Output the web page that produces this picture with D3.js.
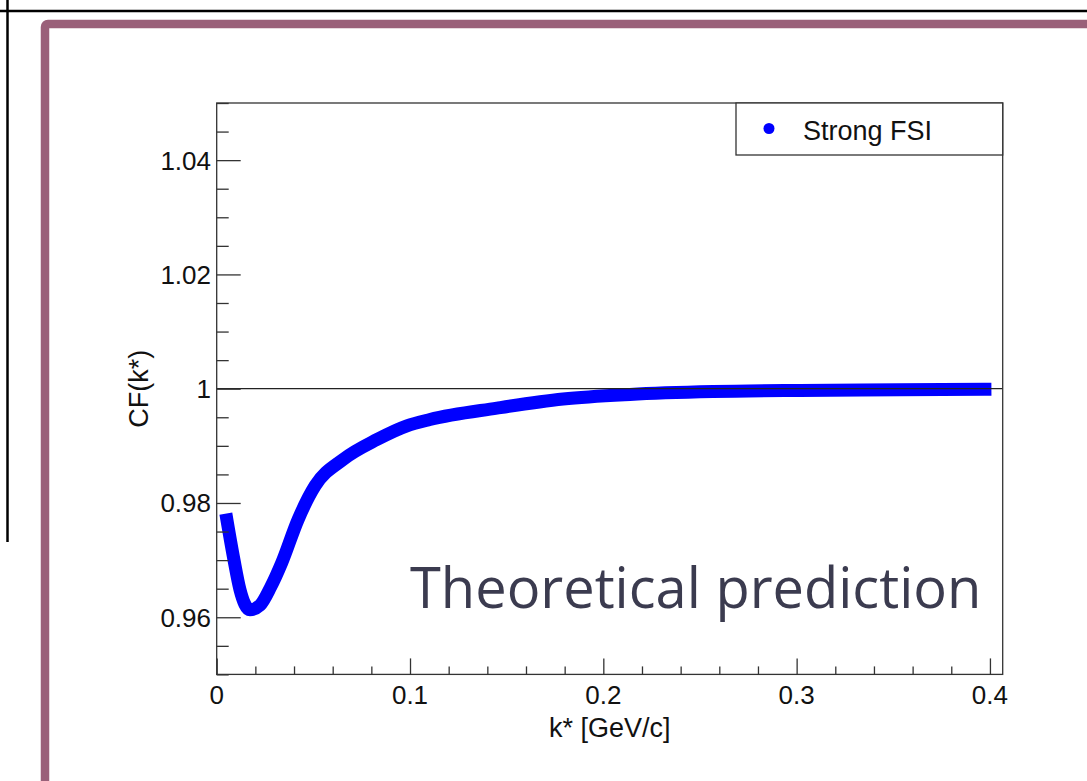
<!DOCTYPE html>
<html>
<head>
<meta charset="utf-8">
<script src="https://cdn.jsdelivr.net/npm/d3@7"></script>
<style>
  html, body { margin: 0; padding: 0; background: #ffffff; }
  svg { display: block; }
</style>
</head>
<body>
<svg id="chart" width="1087" height="781"></svg>
<script>
// ---- data ----
const kValues  = [0.0053, 0.0089, 0.0120, 0.0172, 0.0224, 0.0281, 0.0336, 0.0421, 0.0509, 0.0653, 0.0829, 0.0984, 0.1103, 0.1450, 0.1792, 0.2138, 0.2567, 0.3017, 0.3534, 0.3974];
const cfValues = [0.9770, 0.9701, 0.9649, 0.9613, 0.9621, 0.9654, 0.9695, 0.9771, 0.9830, 0.9876, 0.9911, 0.9935, 0.9946, 0.9966, 0.9982, 0.9990, 0.9995, 0.9997, 0.9998, 0.9999];
const xMajorTicks = [0, 0.1, 0.2, 0.3, 0.4];
const xTickLabels = ["0", "0.1", "0.2", "0.3", "0.4"];
const yMajorTicks = [0.96, 0.98, 1.00, 1.02, 1.04];
const yTickLabels = ["0.96", "0.98", "1", "1.02", "1.04"];
const xDomain = [0, 0.4066];
const yDomain = [0.95, 1.05];
const referenceLevel = 1.0;
const seriesName = "Strong FSI";
const xTitle = "k* [GeV/c]";
const yTitle = "CF(k*)";
const overlayText = "Theoretical prediction";

(function () {
// ---- layout ----
const svg = d3.select("#chart");
const W = 1087, H = 781;
const pL = 216.7, pR = 1002.7, pT = 103, pB = 674.4;
const fontAxis = "'Liberation Sans', Arial, Helvetica, sans-serif";

// slide decorations
svg.append("line").attr("x1", 0).attr("x2", W).attr("y1", 11).attr("y2", 11)
  .attr("stroke", "#000").attr("stroke-width", 2.5);
svg.append("line").attr("x1", 7.5).attr("x2", 7.5).attr("y1", 0).attr("y2", 542)
  .attr("stroke", "#000").attr("stroke-width", 2.5);
svg.append("rect").attr("x", 45).attr("y", 24).attr("width", 1200).attr("height", 900)
  .attr("rx", 3).attr("fill", "#ffffff").attr("stroke", "#9a6079").attr("stroke-width", 8.5);

const x = d3.scaleLinear().domain(xDomain).range([pL, pR]);
const y = d3.scaleLinear().domain(yDomain).range([pB, pT]);

// minor ticks
const xMinor = d3.range(0, 0.4001, 0.02).filter(v => !xMajorTicks.some(m => Math.abs(m - v) < 1e-9));
const yMinor = d3.range(0.95, 1.0501, 0.005).filter(v => !yMajorTicks.some(m => Math.abs(m - v) < 1e-9));

const g = svg.append("g");

// curve
const line = d3.line()
  .x((d, i) => x(kValues[i]))
  .y((d, i) => y(cfValues[i]))
  .curve(d3.curveMonotoneX);
g.append("path")
  .datum(kValues)
  .attr("d", line)
  .attr("fill", "none")
  .attr("stroke", "#0000ff")
  .attr("stroke-width", 13)
  .attr("stroke-linejoin", "round")
  .attr("stroke-linecap", "square");

// reference line at 1
g.append("line")
  .attr("x1", x(xDomain[0])).attr("x2", x(xDomain[1]))
  .attr("y1", y(referenceLevel)).attr("y2", y(referenceLevel))
  .attr("stroke", "#222").attr("stroke-width", 1.2);

// frame
g.append("rect").attr("x", pL).attr("y", pT).attr("width", pR - pL).attr("height", pB - pT)
  .attr("fill", "none").attr("stroke", "#333").attr("stroke-width", 1.3);

// ticks (pointing into the plot)
const xAxisMajor = d3.axisBottom(x).tickValues(xMajorTicks).tickSize(-16).tickFormat("");
const xAxisMinor = d3.axisBottom(x).tickValues(xMinor).tickSize(-8).tickFormat("");
[xAxisMajor, xAxisMinor].forEach(ax => {
  const a = g.append("g").attr("transform", `translate(0,${pB})`).call(ax);
  a.select(".domain").remove();
  a.selectAll("line").attr("stroke", "#333").attr("stroke-width", 1.3);
});
const yAxisMajor = d3.axisLeft(y).tickValues(yMajorTicks).tickSize(-24).tickFormat("");
const yAxisMinor = d3.axisLeft(y).tickValues(yMinor).tickSize(-12).tickFormat("");
[yAxisMajor, yAxisMinor].forEach(ax => {
  const a = g.append("g").attr("transform", `translate(${pL},0)`).call(ax);
  a.select(".domain").remove();
  a.selectAll("line").attr("stroke", "#333").attr("stroke-width", 1.3);
});

// tick labels
g.selectAll(".xlab").data(xMajorTicks).enter().append("text")
  .attr("x", d => x(d)).attr("y", 704)
  .attr("text-anchor", "middle")
  .attr("font-family", fontAxis).attr("font-size", 26).attr("fill", "#111")
  .text((d, i) => xTickLabels[i]);
g.selectAll(".ylab").data(yMajorTicks).enter().append("text")
  .attr("x", 211).attr("y", d => y(d) + 9.5)
  .attr("text-anchor", "end")
  .attr("font-family", fontAxis).attr("font-size", 26).attr("fill", "#111")
  .text((d, i) => yTickLabels[i]);

// axis titles
g.append("text").attr("x", (pL + pR) / 2).attr("y", 737)
  .attr("text-anchor", "middle")
  .attr("font-family", fontAxis).attr("font-size", 27).attr("fill", "#111")
  .text(xTitle);
g.append("text")
  .attr("transform", `translate(148,${(pT + pB) / 2}) rotate(-90)`)
  .attr("text-anchor", "middle")
  .attr("font-family", fontAxis).attr("font-size", 27).attr("fill", "#111")
  .text(yTitle);

// legend
g.append("rect").attr("x", 736).attr("y", pT).attr("width", pR - 736).attr("height", 52)
  .attr("fill", "#fff").attr("stroke", "#333").attr("stroke-width", 1.3);
g.append("circle").attr("cx", 769).attr("cy", 128.5).attr("r", 5.5).attr("fill", "#0000ff");
g.append("text").attr("x", 803).attr("y", 140)
  .attr("font-family", fontAxis).attr("font-size", 27).attr("fill", "#111")
  .text(seriesName);

// overlay text
g.append("text").attr("x", 410).attr("y", 608)
  .attr("font-family", "'Open Sans', 'Noto Sans', sans-serif").attr("font-size", 56)
  .attr("fill", "#3b3b4f")
  .text(overlayText);
})();
</script>
</body>
</html>
